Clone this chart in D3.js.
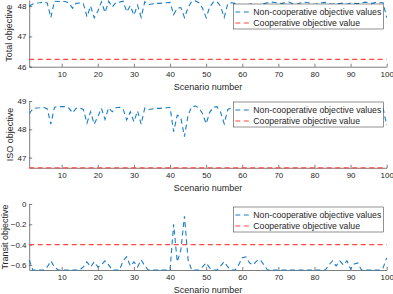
<!DOCTYPE html>
<html>
<head>
<meta charset="utf-8">
<script src="https://cdn.jsdelivr.net/npm/d3@7"></script>
<style>
  body { margin: 0; background: #fff; }
  svg { display: block; font-family: "Liberation Sans", Arial, sans-serif; }
  .axis path, .axis line { stroke: #262626; stroke-width: 0.6; }
  .axis text { fill: #262626; font-size: 8px; font-family: "Liberation Sans", Arial, sans-serif; }
</style>
</head>
<body>
<div id="chart"></div>
<script>

// scenario numbers 1..100
const scenarios = d3.range(1, 101);

// non-cooperative objective values
const totalValues = [
    48.00, 48.07, 48.10, 48.11, 48.13, 48.10, 47.62, 48.16, 48.15, 48.15,
    48.15, 48.10, 47.93, 48.09, 48.10, 48.08, 47.65, 48.00, 47.61, 47.83,
    48.14, 47.79, 48.16, 47.97, 48.11, 48.13, 48.16, 47.81, 48.01, 47.70,
    48.03, 47.63, 48.14, 48.05, 48.07, 48.09, 48.09, 48.10, 48.11, 48.12,
    47.72, 47.93, 47.95, 47.62, 47.95, 48.15, 48.17, 48.11, 47.93, 47.62,
    47.97, 48.13, 48.15, 47.99, 47.63, 48.08, 48.11, 48.09, 48.06, 48.02,
    48.04, 48.06, 48.08, 48.04, 48.03, 48.08, 48.11, 48.13, 48.12, 48.10,
    48.09, 48.11, 48.13, 48.07, 48.05, 48.10, 48.13, 48.12, 48.09, 48.05,
    48.08, 48.11, 48.12, 48.08, 48.06, 48.09, 48.08, 48.10, 48.06, 48.10,
    48.09, 48.08, 48.10, 48.13, 48.11, 48.09, 48.12, 48.11, 48.11, 47.62
];

const isoValues = [
    48.55, 48.72, 48.75, 48.76, 48.78, 48.72, 48.18, 48.78, 48.80, 48.80,
    48.80, 48.75, 48.58, 48.74, 48.75, 48.70, 48.22, 48.62, 48.18, 48.45,
    48.74, 48.35, 48.76, 48.62, 48.76, 48.78, 48.72, 48.33, 48.62, 48.27,
    48.65, 48.18, 48.75, 48.70, 48.72, 48.74, 48.74, 48.75, 48.76, 48.77,
    47.92, 48.50, 48.40, 47.74, 48.50, 48.80, 48.82, 48.76, 48.55, 48.20,
    48.60, 48.78, 48.80, 48.60, 48.20, 48.70, 48.76, 48.74, 48.66, 48.55,
    48.56, 48.64, 48.68, 48.60, 48.58, 48.68, 48.76, 48.78, 48.77, 48.75,
    48.74, 48.76, 48.78, 48.72, 48.70, 48.75, 48.78, 48.77, 48.74, 48.70,
    48.73, 48.76, 48.77, 48.68, 48.62, 48.70, 48.64, 48.70, 48.62, 48.74,
    48.68, 48.66, 48.75, 48.78, 48.76, 48.74, 48.77, 48.76, 48.74, 48.15
];

const transitValues = [
    -0.55, -0.65, -0.65, -0.65, -0.65, -0.62, -0.56, -0.62, -0.65, -0.65,
    -0.65, -0.65, -0.65, -0.65, -0.65, -0.62, -0.57, -0.62, -0.57, -0.62,
    -0.60, -0.56, -0.60, -0.65, -0.65, -0.65, -0.56, -0.52, -0.61, -0.57,
    -0.62, -0.55, -0.61, -0.65, -0.65, -0.65, -0.65, -0.65, -0.65, -0.65,
    -0.20, -0.57, -0.45, -0.12, -0.55, -0.65, -0.65, -0.65, -0.62, -0.58,
    -0.63, -0.65, -0.65, -0.61, -0.57, -0.62, -0.65, -0.65, -0.60, -0.53,
    -0.52, -0.58, -0.60, -0.56, -0.55, -0.60, -0.65, -0.65, -0.65, -0.65,
    -0.65, -0.65, -0.65, -0.65, -0.65, -0.65, -0.65, -0.65, -0.65, -0.65,
    -0.65, -0.65, -0.65, -0.60, -0.56, -0.61, -0.56, -0.60, -0.56, -0.64,
    -0.59, -0.58, -0.65, -0.65, -0.65, -0.65, -0.65, -0.65, -0.63, -0.53
];

// cooperative objective values (one per panel)
const coopTotal = 46.24;
const coopIso = 46.64;
const coopTransit = -0.40;

// tick labels
const xTicks = [10, 20, 30, 40, 50, 60, 70, 80, 90, 100];
const totalTicks = [46, 47, 48];
const isoTicks = [47, 48, 49];
const transitTicks = [-0.6, -0.4, -0.2, 0];

const legendLabels = ["Non-cooperative objective values", "Cooperative objective value"];

const width = 393, height = 294;
const blue = "#1a7fc6", red = "#FF4646";
const dash = "5,3.5";

let svg = d3.select("#chart").append("svg")
    .attr("width", width)
    .attr("height", height);

// shared x scale
let x = d3.scaleLinear().domain([1, 100]).range([29.2, 386.7]);

// panel layout
let panels = [
    {values: totalValues, coop: coopTotal, ticks: totalTicks, domain: [46, 48.2],
        top: 0, bottom: 66.7, label: "Total objective", labelX: 8.5, legendTop: 4},
    {values: isoValues, coop: coopIso, ticks: isoTicks, domain: [46.64, 49],
        top: 101, bottom: 167.8, label: "ISO objective", labelX: 9.5, legendTop: 102},
    {values: transitValues, coop: coopTransit, ticks: transitTicks, domain: [-0.65, 0],
        top: 204, bottom: 270, label: "Transit objective", labelX: 5, legendTop: 207}
];

panels.forEach(p => {
    let y = d3.scaleLinear().domain(p.domain).range([p.bottom, p.top]);
    let g = svg.append("g");

    // axes (MATLAB style: ticks inside, box off)
    g.append("g")
        .attr("class", "axis")
        .attr("transform", `translate(0, ${p.bottom})`)
        .call(d3.axisBottom(x).tickValues(xTicks).tickSizeInner(-3).tickSizeOuter(0).tickPadding(4.4));

    g.append("g")
        .attr("class", "axis")
        .attr("transform", `translate(${x.range()[0]}, 0)`)
        .call(d3.axisLeft(y).tickValues(p.ticks).tickSizeInner(-3).tickSizeOuter(0).tickPadding(2.7)
            .tickFormat(d3.format("~g")));

    // cooperative line
    g.append("path")
        .datum([1, 100])
        .attr("fill", "none")
        .attr("stroke", red)
        .attr("stroke-width", 1.2)
        .attr("stroke-dasharray", dash)
        .attr("d", d3.line().x(d => x(d)).y(() => y(p.coop)));

    // non-cooperative line
    g.append("path")
        .datum(scenarios)
        .attr("fill", "none")
        .attr("stroke", blue)
        .attr("stroke-width", 1.1)
        .attr("stroke-dasharray", dash)
        .attr("d", d3.line().x(d => x(d)).y((d, i) => y(p.values[i])));

    // labels
    g.append("text")
        .attr("x", (x.range()[0] + x.range()[1]) / 2)
        .attr("y", p.bottom + 20)
        .attr("text-anchor", "middle")
        .attr("dominant-baseline", "central")
        .attr("font-size", 9)
        .attr("fill", "#262626")
        .text("Scenario number");

    g.append("text")
        .attr("transform", `translate(${p.labelX}, ${(p.top + p.bottom) / 2}) rotate(-90)`)
        .attr("text-anchor", "middle")
        .attr("dominant-baseline", "central")
        .attr("font-size", 9)
        .attr("fill", "#262626")
        .text(p.label);

    // legend (opaque, northeast)
    let lg = g.append("g").attr("transform", `translate(233.3, ${p.legendTop})`);
    lg.append("rect")
        .attr("width", 150)
        .attr("height", 25)
        .attr("fill", "#fff")
        .attr("stroke", "#262626")
        .attr("stroke-width", 0.5);

    legendLabels.forEach((txt, k) => {
        let ly = 8 + k * 11;
        lg.append("line")
            .attr("x1", 2).attr("x2", 16)
            .attr("y1", ly).attr("y2", ly)
            .attr("stroke", k === 0 ? blue : red)
            .attr("stroke-width", k === 0 ? 1.1 : 1.2)
            .attr("stroke-dasharray", dash);
        lg.append("text")
            .attr("x", 20)
            .attr("y", ly)
            .attr("dominant-baseline", "central")
            .attr("font-size", 8.7)
            .attr("fill", "#262626")
            .text(txt);
    });
});

</script>
</body>
</html>
